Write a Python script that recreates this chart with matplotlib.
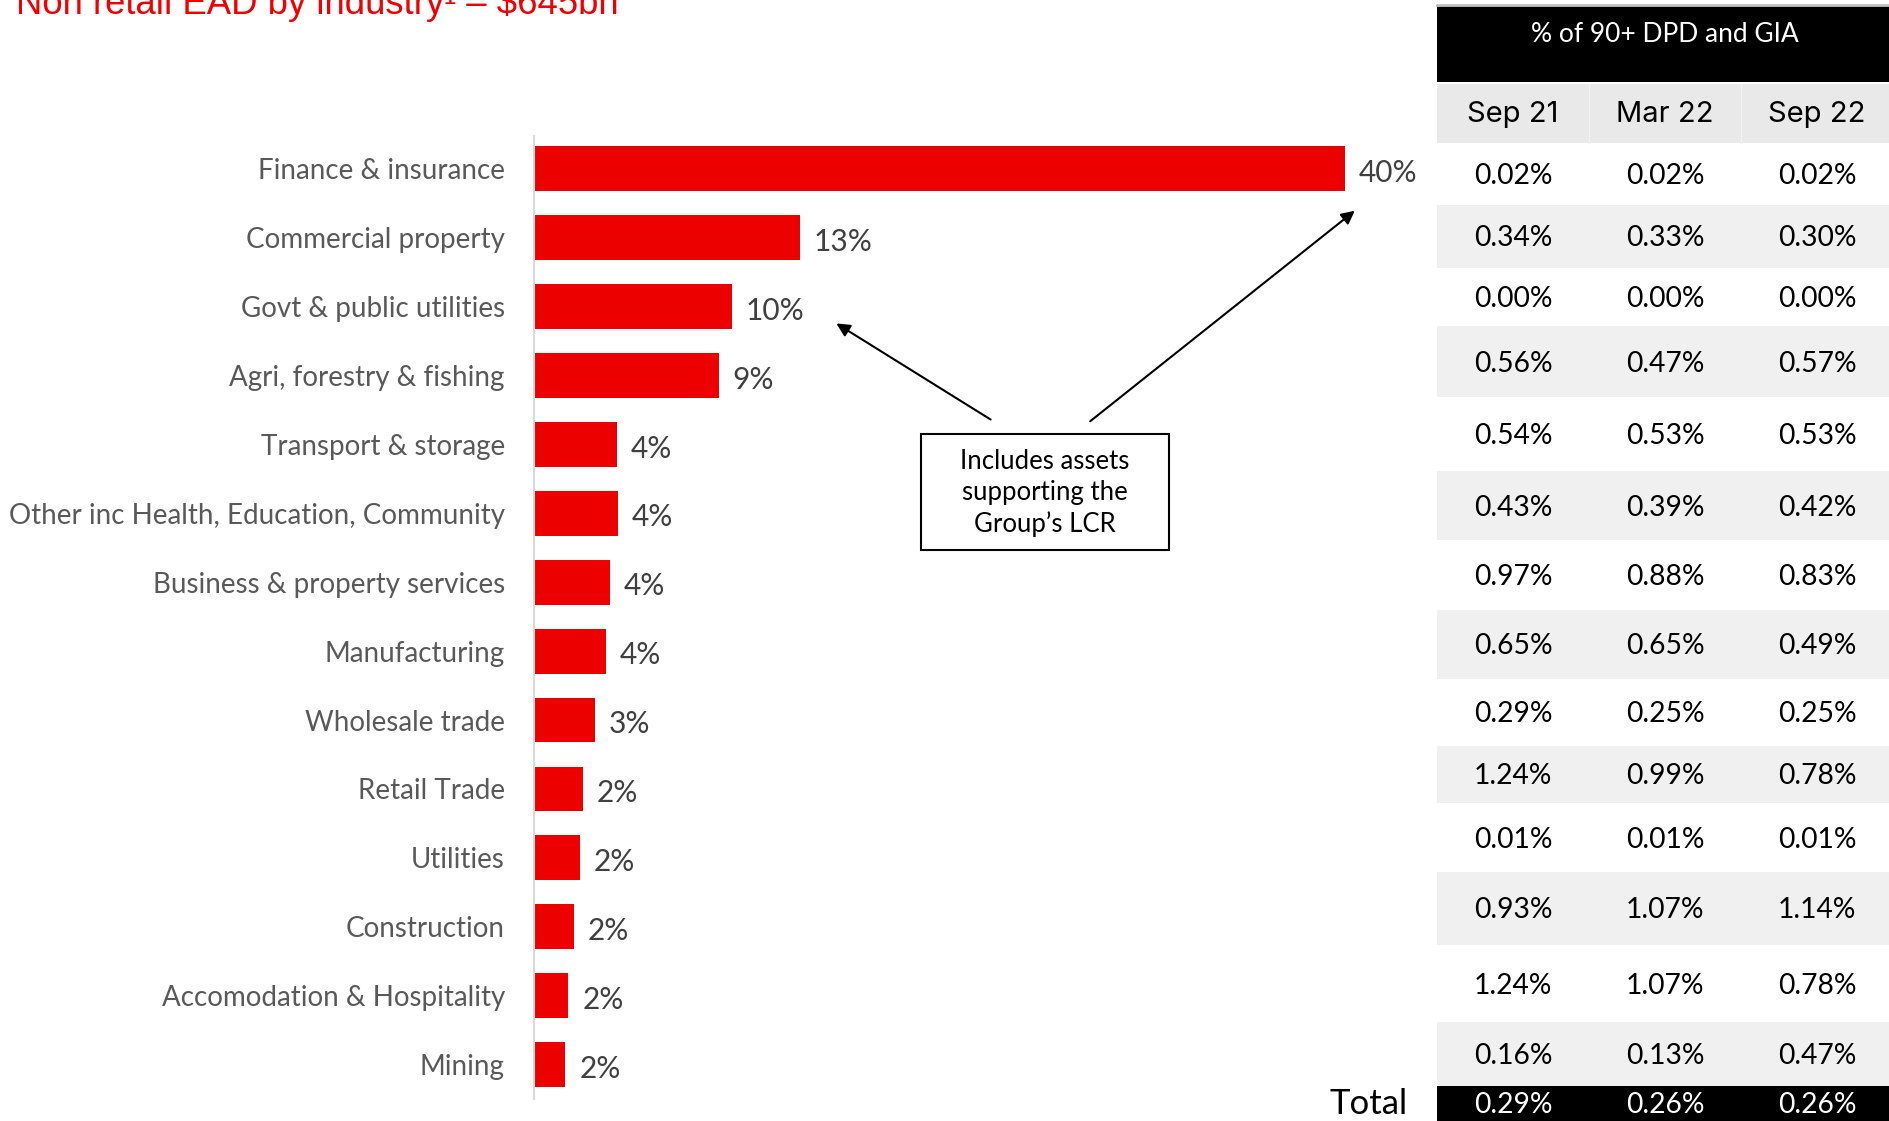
import matplotlib.pyplot as plt
from matplotlib.patches import Rectangle

# bar chart data (share of non retail EAD, %)
industries = ["Finance & insurance", "Commercial property", "Govt & public utilities",
              "Agri, forestry & fishing", "Transport & storage",
              "Other inc Health, Education, Community", "Business & property services",
              "Manufacturing", "Wholesale trade", "Retail Trade", "Utilities",
              "Construction", "Accomodation & Hospitality", "Mining"]
ead_share = [40.0, 13.1, 9.75, 9.1, 4.1, 4.15, 3.75, 3.55, 3.0, 2.4, 2.25, 1.95, 1.7, 1.55]
ead_labels = ["40%", "13%", "10%", "9%", "4%", "4%", "4%", "4%", "3%", "2%", "2%", "2%", "2%", "2%"]

# table data (% of 90+ DPD and GIA)
periods = ["Sep 21", "Mar 22", "Sep 22"]
sep21 = [0.02, 0.34, 0.00, 0.56, 0.54, 0.43, 0.97, 0.65, 0.29, 1.24, 0.01, 0.93, 1.24, 0.16]
mar22 = [0.02, 0.33, 0.00, 0.47, 0.53, 0.39, 0.88, 0.65, 0.25, 0.99, 0.01, 1.07, 1.07, 0.13]
sep22 = [0.02, 0.30, 0.00, 0.57, 0.53, 0.42, 0.83, 0.49, 0.25, 0.78, 0.01, 1.14, 0.78, 0.47]
totals = [0.29, 0.26, 0.26]

W, H = 1890, 1121
RED = "#ec0000"
LABEL_FONT = "Lato"

fig = plt.figure(figsize=(W / 100, H / 100), dpi=100)

# --- bar chart ---
ax_left, ax_right = 534, 534 + 811 * 48 / 40
ax_top, ax_bot = 136, 1099
ax = fig.add_axes([ax_left / W, 1 - ax_bot / H, (ax_right - ax_left) / W, (ax_bot - ax_top) / H])
ypos = list(range(len(industries)))
bars = ax.barh(ypos, ead_share, height=0.65, color=RED, edgecolor="none")
ax.set_xlim(0, 48)
ax.set_ylim(13.5, -0.476)
ax.set_yticks(ypos)
ax.set_yticklabels(industries, fontsize=20, color="#595959", family=LABEL_FONT)
ax.tick_params(axis="y", length=0, pad=21)
ax.set_xticks([])
for s in ["top", "right", "bottom"]:
    ax.spines[s].set_visible(False)
ax.spines["left"].set_color("#d9d9d9")
ax.spines["left"].set_linewidth(1.5)
ax.patch.set_alpha(0)

for b, lab in zip(bars, ead_labels):
    ax.annotate(lab, (b.get_width(), b.get_y() + b.get_height() / 2),
                xytext=(10, -3), textcoords="offset points", va="center", ha="left",
                fontsize=21.5, color="#404040", family=LABEL_FONT)

# --- overlay in pixel coordinates for title, callout and table ---
ov = fig.add_axes([0, 0, 1, 1], zorder=-1)
ov.set_xlim(0, W)
ov.set_ylim(H, 0)
ov.axis("off")

ov.text(16, 14, "Non retail EAD by industry\u00b9 \u2013 $645bn", color="#f00000",
        fontsize=26.3, family="Liberation Sans", ha="left", va="baseline")

# callout box with arrows
ov.add_patch(Rectangle((921, 434), 248, 116, facecolor="white", edgecolor="black", lw=1.5))
ov.text(1045, 493, "Includes assets\nsupporting the\nGroup\u2019s LCR", ha="center", va="center",
        fontsize=18.5, family=LABEL_FONT, color="black", linespacing=1.32)
ov.annotate("", xy=(834, 322), xytext=(993, 421),
            arrowprops=dict(arrowstyle="-|>", color="black", lw=1.5, mutation_scale=20))
ov.annotate("", xy=(1357, 209), xytext=(1088, 423),
            arrowprops=dict(arrowstyle="-|>", color="black", lw=1.5, mutation_scale=20))

# table
tx = 1437
cw = 152
col_x = [tx + cw * (i + 0.5) for i in range(3)]
ov.plot([tx, W], [5, 5], color="#bfbfbf", lw=2)
ov.add_patch(Rectangle((tx, 6), W - tx, 76, facecolor="black", edgecolor="none"))
ov.text(tx + 1.5 * cw, 35, "% of 90+ DPD and GIA", color="white", ha="center", va="center",
        fontsize=19, family=LABEL_FONT)
ov.add_patch(Rectangle((tx, 84), W - tx, 59, facecolor="#e9e9e9", edgecolor="none"))
for i, p in enumerate(periods):
    ov.text(col_x[i], 115, p, ha="center", va="center", fontsize=21, family="Inter",
            color="black")

row_edges = [143, 205, 268, 326, 397, 471, 540, 610, 679, 746, 803, 872, 945, 1022, 1086]
for r in range(len(sep21)):
    y0, y1 = row_edges[r], row_edges[r + 1]
    if r % 2 == 1:
        ov.add_patch(Rectangle((tx, y0), W - tx, y1 - y0, facecolor="#f0f0f0", edgecolor="none"))
    yc = (y0 + y1) / 2 + 2
    for i, v in enumerate([sep21[r], mar22[r], sep22[r]]):
        ov.text(col_x[i], yc, f"{v:.2f}%", ha="center", va="center", fontsize=20.3,
                family=LABEL_FONT, color="black")
for xd in [tx + cw, tx + 2 * cw]:
    ov.plot([xd, xd], [84, 143], color="#f2f2f2", lw=1)

ov.add_patch(Rectangle((tx, 1086), W - tx, H - 1086, facecolor="black", edgecolor="none"))
for i, v in enumerate(totals):
    ov.text(col_x[i], 1105, f"{v:.2f}%", ha="center", va="center", fontsize=20.3,
            family=LABEL_FONT, color="white")
ov.text(1408, 1104, "Total", ha="right", va="center", fontsize=25, family=LABEL_FONT, color="black")

fig.savefig("out.png", dpi=100)
